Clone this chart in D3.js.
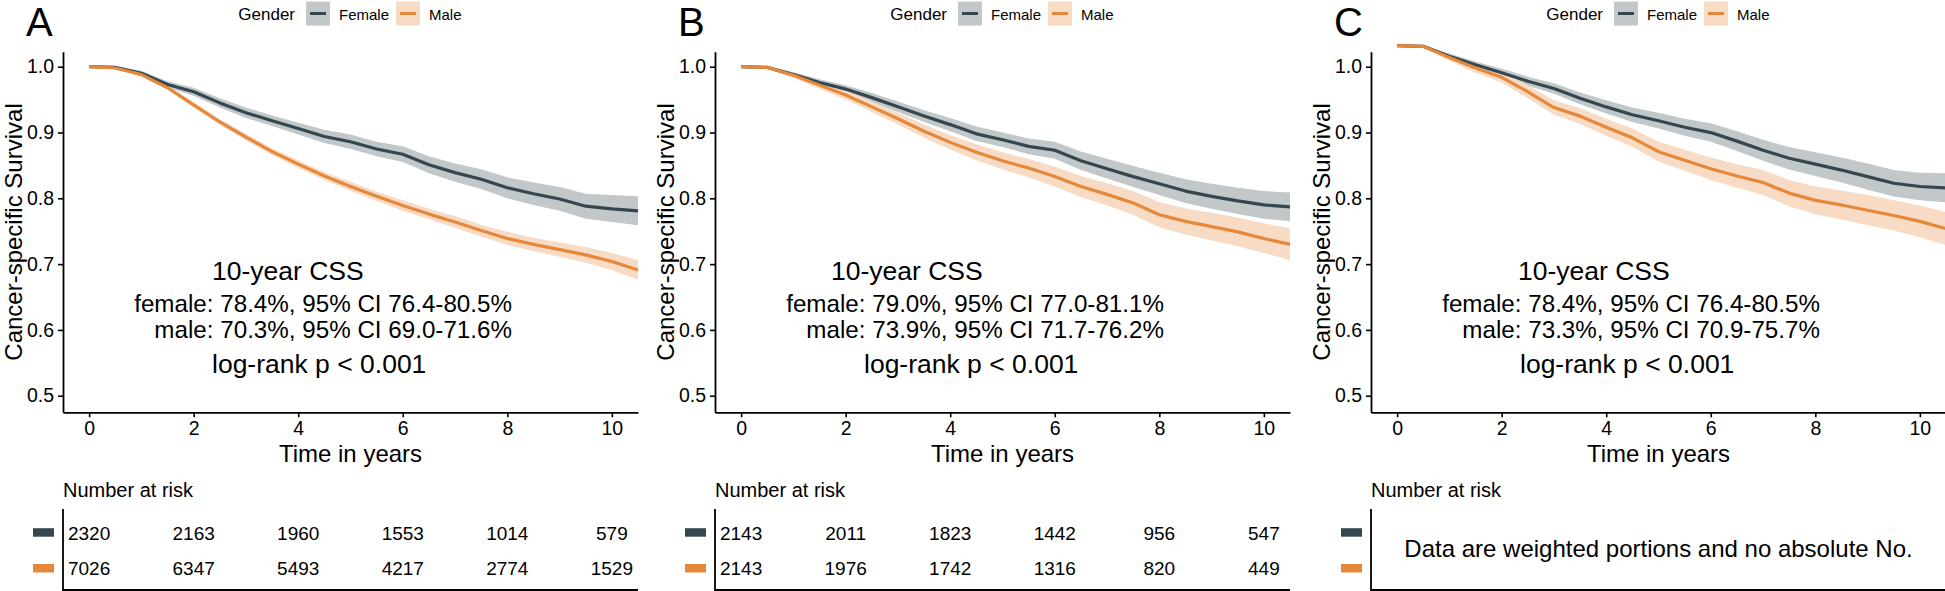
<!DOCTYPE html>
<html>
<head>
<meta charset="utf-8">
<script src="https://cdn.jsdelivr.net/npm/d3@7"></script>
<style>
  html, body { margin: 0; padding: 0; background: #ffffff; }
  svg { display: block; font-family: "Liberation Sans", Arial, Helvetica, sans-serif; }
</style>
</head>
<body>
<script>
// ---------- DATA ----------
const times = [0,0.5,1,1.5,2,2.5,3,3.5,4,4.5,5,5.5,6,6.5,7,7.5,8,8.5,9,9.5,10,10.5];
const xTicks = [0,2,4,6,8,10];
const yTicks = [0.5,0.6,0.7,0.8,0.9,1.0];
const groups = ["Female","Male"];
const riskTimes = [0,2,4,6,8,10];

// Panel A
const aFemale   = [1.000,0.999,0.990,0.973,0.962,0.945,0.930,0.918,0.906,0.894,0.886,0.875,0.867,0.851,0.839,0.829,0.816,0.807,0.799,0.788,0.784,0.781];
const aFemaleLo = [1.000,0.998,0.986,0.968,0.956,0.938,0.922,0.910,0.897,0.884,0.875,0.864,0.855,0.838,0.825,0.814,0.800,0.790,0.781,0.769,0.764,0.759];
const aFemaleHi = [1.000,1.000,0.994,0.978,0.968,0.952,0.938,0.926,0.915,0.904,0.897,0.886,0.879,0.864,0.853,0.844,0.832,0.824,0.817,0.807,0.805,0.803];
const aMale     = [1.000,0.998,0.988,0.968,0.942,0.916,0.893,0.871,0.852,0.834,0.818,0.803,0.789,0.776,0.764,0.751,0.739,0.730,0.722,0.714,0.704,0.691];
const aMaleLo   = [1.000,0.997,0.986,0.965,0.938,0.912,0.888,0.866,0.846,0.828,0.811,0.796,0.781,0.768,0.755,0.742,0.729,0.720,0.711,0.702,0.691,0.676];
const aMaleHi   = [1.000,0.999,0.990,0.971,0.946,0.920,0.898,0.876,0.858,0.840,0.825,0.810,0.797,0.784,0.773,0.760,0.749,0.740,0.733,0.726,0.717,0.706];
const riskAFemale = [2320,2163,1960,1553,1014,579];
const riskAMale   = [7026,6347,5493,4217,2774,1529];

// Panel B
const bFemale   = [1.000,0.999,0.988,0.976,0.966,0.953,0.939,0.925,0.912,0.898,0.889,0.879,0.873,0.857,0.845,0.833,0.822,0.811,0.803,0.796,0.790,0.787];
const bFemaleLo = [1.000,0.998,0.984,0.971,0.960,0.946,0.931,0.916,0.902,0.887,0.878,0.867,0.860,0.843,0.830,0.817,0.805,0.793,0.784,0.776,0.769,0.765];
const bFemaleHi = [1.000,1.000,0.992,0.981,0.972,0.960,0.947,0.934,0.922,0.909,0.900,0.891,0.886,0.871,0.860,0.849,0.839,0.829,0.822,0.816,0.811,0.809];
const bMale     = [1.000,0.999,0.987,0.972,0.957,0.939,0.921,0.902,0.885,0.870,0.857,0.846,0.833,0.818,0.806,0.793,0.775,0.765,0.757,0.749,0.739,0.730];
const bMaleLo   = [1.000,0.997,0.983,0.966,0.950,0.931,0.912,0.892,0.874,0.858,0.844,0.832,0.818,0.802,0.789,0.775,0.756,0.745,0.736,0.727,0.717,0.706];
const bMaleHi   = [1.000,1.000,0.991,0.978,0.964,0.947,0.930,0.912,0.896,0.882,0.870,0.860,0.848,0.834,0.823,0.811,0.794,0.785,0.778,0.771,0.762,0.754];
const riskBFemale = [2143,2011,1823,1442,956,547];
const riskBMale   = [2143,1976,1742,1316,820,449];

// Panel C
const cFemale   = [1.000,0.999,0.984,0.971,0.959,0.946,0.935,0.920,0.907,0.895,0.886,0.876,0.868,0.855,0.841,0.829,0.820,0.811,0.801,0.791,0.786,0.784];
const cFemaleLo = [1.000,0.998,0.980,0.966,0.953,0.939,0.927,0.911,0.897,0.884,0.874,0.863,0.854,0.840,0.825,0.812,0.802,0.792,0.781,0.771,0.765,0.762];
const cFemaleHi = [1.000,1.000,0.988,0.976,0.965,0.953,0.943,0.929,0.917,0.906,0.898,0.889,0.882,0.870,0.857,0.846,0.838,0.830,0.821,0.811,0.807,0.806];
const cMale     = [1.000,0.999,0.982,0.966,0.952,0.930,0.906,0.893,0.876,0.860,0.839,0.826,0.813,0.802,0.792,0.776,0.765,0.758,0.750,0.742,0.733,0.722];
const cMaleLo   = [1.000,0.997,0.977,0.959,0.944,0.920,0.895,0.881,0.863,0.846,0.824,0.810,0.796,0.784,0.773,0.756,0.744,0.736,0.727,0.719,0.709,0.697];
const cMaleHi   = [1.000,1.000,0.987,0.973,0.960,0.940,0.917,0.905,0.889,0.874,0.854,0.842,0.830,0.820,0.811,0.796,0.786,0.780,0.773,0.765,0.757,0.747];
const cRiskNote = "Data are weighted portions and no absolute No.";

const panelLabels = ["A","B","C"];
const annoA = ["10-year CSS","female: 78.4%, 95% CI 76.4-80.5%","male: 70.3%, 95% CI 69.0-71.6%","log-rank p < 0.001"];
const annoB = ["10-year CSS","female: 79.0%, 95% CI 77.0-81.1%","male: 73.9%, 95% CI 71.7-76.2%","log-rank p < 0.001"];
const annoC = ["10-year CSS","female: 78.4%, 95% CI 76.4-80.5%","male: 73.3%, 95% CI 70.9-75.7%","log-rank p < 0.001"];

// ---------- STYLE / LAYOUT ----------
const lineColors = {Female: "#34474F", Male: "#E6883A"};
const bandColors = {Female: "#c2c8ca", Male: "#f7dbc4"};
const plotW = 575, plotTop = 51.7, plotBottom = 412.3;

const panels = [
  {x0: 63,   label: panelLabels[0], s: {Female:[aFemale,aFemaleLo,aFemaleHi], Male:[aMale,aMaleLo,aMaleHi]}, risk: {Female: riskAFemale, Male: riskAMale}, anno: annoA, headDx: 149, shift: 0},
  {x0: 715,  label: panelLabels[1], s: {Female:[bFemale,bFemaleLo,bFemaleHi], Male:[bMale,bMaleLo,bMaleHi]}, risk: {Female: riskBFemale, Male: riskBMale}, anno: annoB, headDx: 116, shift: 0},
  {x0: 1371, label: panelLabels[2], s: {Female:[cFemale,cFemaleLo,cFemaleHi], Male:[cMale,cMaleLo,cMaleHi]}, risk: null, anno: annoC, headDx: 147, shift: 21}
];

const svg = d3.select("body").append("svg").attr("width", 1945).attr("height", 591);

panels.forEach(p => {
  const g = svg.append("g");
  const x = d3.scaleLinear().domain([-0.5, 10.5]).range([p.x0, p.x0 + plotW]);
  const y = d3.scaleLinear().domain([0.4748, 1.0228]).range([plotBottom, plotTop]);
  const yc = y.copy().range([plotBottom - p.shift, plotTop - p.shift]);

  // bands
  groups.forEach(k => {
    const [, lo, hi] = p.s[k];
    const area = d3.area().x((d, i) => x(times[i])).y0((d, i) => yc(lo[i])).y1((d, i) => yc(hi[i]));
    g.append("path").datum(times).attr("d", area).attr("fill", bandColors[k]).attr("stroke", "none");
  });
  // lines
  groups.forEach(k => {
    const [v] = p.s[k];
    const line = d3.line().x((d, i) => x(times[i])).y((d, i) => yc(v[i]));
    g.append("path").datum(times).attr("d", line).attr("fill", "none")
      .attr("stroke", lineColors[k]).attr("stroke-width", 3.2).attr("stroke-linejoin", "round");
  });

  // axes
  const ya = g.append("g").attr("transform", `translate(${p.x0},0)`)
    .call(d3.axisLeft(y).tickValues(yTicks).tickFormat(d3.format(".1f")).tickSize(5).tickSizeOuter(0).tickPadding(4));
  const xa = g.append("g").attr("transform", `translate(0,${plotBottom})`)
    .call(d3.axisBottom(x).tickValues(xTicks).tickFormat(d3.format("d")).tickSize(5).tickSizeOuter(0).tickPadding(4));
  [ya, xa].forEach(a => {
    a.select(".domain").attr("stroke", "#000").attr("stroke-width", 1.8);
    a.selectAll(".tick line").attr("stroke", "#000").attr("stroke-width", 1.6);
    a.selectAll(".tick text").attr("fill", "#000").style("font-size", "19.5px").style("font-family", "Liberation Sans, Arial, sans-serif");
  });

  // axis titles
  g.append("text").attr("x", (p.x0 + p.x0 + plotW) / 2).attr("y", 462)
    .attr("text-anchor", "middle").style("font-size", "24px").text("Time in years");
  g.append("text").attr("transform", `translate(${p.x0 - 41},${(plotTop + plotBottom) / 2}) rotate(-90)`)
    .attr("text-anchor", "middle").style("font-size", "24px").text("Cancer-specific Survival");

  // panel letter
  g.append("text").attr("x", p.x0 - 37).attr("y", 35.5).style("font-size", "40px").text(p.label);

  // legend
  const lg = g.append("g").attr("transform", `translate(${p.x0 + 172},0)`);
  lg.append("text").attr("x", 60).attr("y", 20).attr("text-anchor", "end").style("font-size", "17px").text("Gender");
  const keyPos = [{k: "Female", kx: 71, tx: 104}, {k: "Male", kx: 161, tx: 194}];
  keyPos.forEach(o => {
    lg.append("rect").attr("x", o.kx).attr("y", 1.5).attr("width", 24).attr("height", 24).attr("fill", bandColors[o.k]);
    lg.append("line").attr("x1", o.kx + 4).attr("x2", o.kx + 20).attr("y1", 13.5).attr("y2", 13.5)
      .attr("stroke", lineColors[o.k]).attr("stroke-width", 3);
    lg.append("text").attr("x", o.tx).attr("y", 19.5).style("font-size", "15px").text(o.k);
  });

  // annotations
  g.append("text").attr("x", p.x0 + p.headDx).attr("y", 280).style("font-size", "26.5px").text(p.anno[0]);
  g.append("text").attr("x", p.x0 + 449).attr("y", 311.7).attr("text-anchor", "end").style("font-size", "24.2px").text(p.anno[1]);
  g.append("text").attr("x", p.x0 + 449).attr("y", 338.3).attr("text-anchor", "end").style("font-size", "24.2px").text(p.anno[2]);
  g.append("text").attr("x", p.x0 + 149).attr("y", 372.7).style("font-size", "26.5px").text(p.anno[3]);

  // risk table
  g.append("text").attr("x", p.x0).attr("y", 496.7).style("font-size", "20px").text("Number at risk");
  g.append("line").attr("x1", p.x0).attr("x2", p.x0).attr("y1", 509).attr("y2", 590).attr("stroke", "#000").attr("stroke-width", 1.8);
  g.append("line").attr("x1", p.x0 - 0.9).attr("x2", p.x0 + plotW).attr("y1", 590).attr("y2", 590).attr("stroke", "#000").attr("stroke-width", 1.8);
  const rowY = {Female: 532.7, Male: 568.5};
  groups.forEach(k => {
    g.append("rect").attr("x", p.x0 - 30).attr("y", rowY[k] - 4.5).attr("width", 21).attr("height", 8.5).attr("fill", lineColors[k]);
    if (p.risk) {
      g.selectAll(null).data(p.risk[k]).enter().append("text")
        .attr("x", (d, i) => x(riskTimes[i])).attr("y", rowY[k] + 6.8)
        .attr("text-anchor", "middle").style("font-size", "19px").text(d => d);
    }
  });
  if (!p.risk) {
    g.append("text").attr("x", x(5)).attr("y", 557).attr("text-anchor", "middle").style("font-size", "24px").text(cRiskNote);
  }
});
</script>
</body>
</html>
